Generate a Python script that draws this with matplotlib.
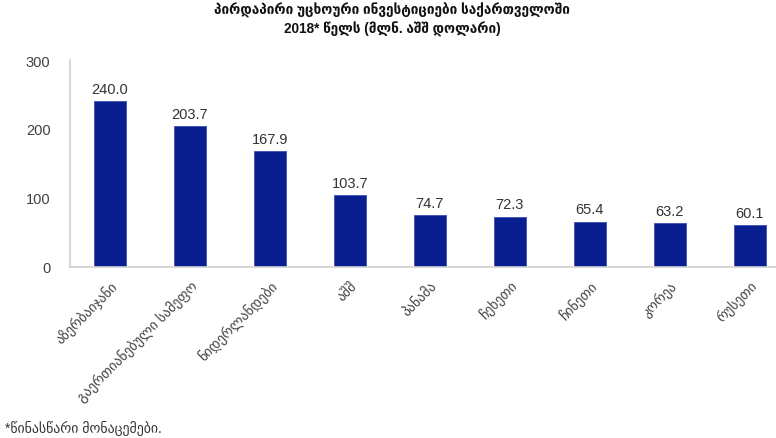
import matplotlib.pyplot as plt

plt.rcParams['font.family'] = ['Liberation Sans', 'DejaVu Sans']

countries = ['აზერბაიჯანი', 'გაერთიანებული სამეფო', 'ნიდერლანდები', 'აშშ', 'პანამა',
             'ჩეხეთი', 'ჩინეთი', 'კორეა', 'რუსეთი']
values = [240.0, 203.7, 167.9, 103.7, 74.7, 72.3, 65.4, 63.2, 60.1]

fig = plt.figure(figsize=(7.76, 4.39), dpi=100)
ax = fig.add_axes([0.090, 0.39, 0.91, 0.471])

x = range(len(countries))
ax.bar(x, values, width=0.40, color='#0a1f8f', edgecolor='#3a4fb0', linewidth=0.6)

for i, v in zip(x, values):
    ax.text(i, v + 8, f'{v:.1f}', ha='center', va='bottom', fontsize=10.5, color='#333333')

ax.set_ylim(0, 300)
ax.set_yticks([0, 100, 200, 300])
ax.set_xlim(-0.5, 8.33)
ax.set_xticks(list(x))
ax.set_xticklabels(countries, rotation=45, ha='right', rotation_mode='anchor',
                   fontsize=10, color='#404040')
ax.tick_params(axis='y', labelsize=10.5, labelcolor='#404040', length=0, pad=14)
ax.tick_params(axis='x', length=0, pad=8)

for s in ['top', 'right']:
    ax.spines[s].set_visible(False)
for s in ['left', 'bottom']:
    ax.spines[s].set_color('#d0d0d0')
    ax.spines[s].set_linewidth(1.2)

fig.text(0.505, 0.955, 'პირდაპირი უცხოური ინვესტიციები საქართველოში\n2018* წელს (მლნ. აშშ დოლარი)',
         ha='center', va='center', fontsize=9.8, fontweight='bold', color='#111111',
         linespacing=1.3)
fig.text(0.006, 0.025, '*წინასწარი მონაცემები.', ha='left', va='center', fontsize=10,
         color='#333333')

fig.savefig('out.png', dpi=100)
